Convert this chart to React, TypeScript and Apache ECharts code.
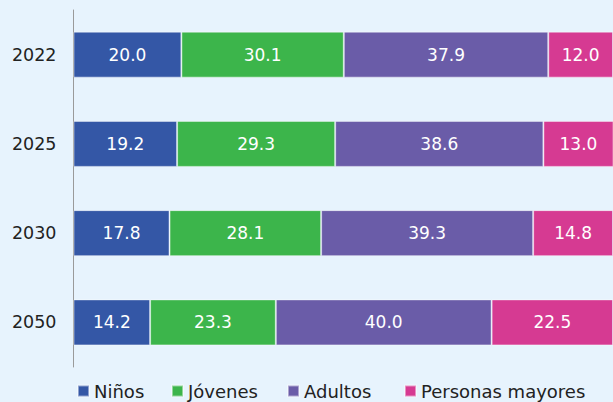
import React, { useEffect, useRef } from "react";
import * as echarts from "echarts";

const categories = ["2022", "2025", "2030", "2050"];
const seriesNames = ["Niños", "Jóvenes", "Adultos", "Personas mayores"];
const ninos = [20.0, 19.2, 17.8, 14.2];
const jovenes = [30.1, 29.3, 28.1, 23.3];
const adultos = [37.9, 38.6, 39.3, 40.0];
const mayores = [12.0, 13.0, 14.8, 22.5];
const colors = ["#3457a6", "#3cb54b", "#6a5ca8", "#d63a92"];
const legendLefts = [77, 171, 287, 404];

const FONT = "'DejaVu Sans', 'Noto Sans', sans-serif";

export default function App() {
  const ref = useRef<HTMLDivElement>(null);
  useEffect(() => {
    if (!ref.current) return;
    const chart = echarts.init(ref.current, undefined, { renderer: "svg" });
    const values = [ninos, jovenes, adultos, mayores];
    chart.setOption({
      animation: false,
      backgroundColor: "#e7f3fd",
      color: colors,
      grid: { left: 73.5, top: 10, width: 542.5, height: 357 },
      legend: seriesNames.map((name, i) => ({
        data: [name],
        left: legendLefts[i],
        top: 382,
        padding: 0,
        itemWidth: 11,
        itemHeight: 11,
        icon: "rect",
        textStyle: { fontFamily: FONT, fontSize: 18, color: "#222" },
      })),
      xAxis: {
        type: "value",
        min: 0,
        max: 100,
        show: false,
      },
      yAxis: {
        type: "category",
        data: categories,
        inverse: true,
        axisLine: { show: true, lineStyle: { color: "#9a9a9a", width: 1 } },
        axisTick: { show: false },
        axisLabel: { fontFamily: FONT, fontSize: 17.5, color: "#222", margin: 17 },
      },
      series: seriesNames.map((name, i) => ({
        name,
        type: "bar",
        stack: "total",
        barWidth: 46,
        data: values[i],
        itemStyle: { borderColor: "rgba(255,255,255,0.45)", borderWidth: 1 },
        label: {
          show: true,
          position: "inside",
          color: "#ffffff",
          fontFamily: FONT,
          fontSize: 17,
          formatter: (p: any) => Number(p.value).toFixed(1),
        },
      })),
    });
    return () => chart.dispose();
  }, []);
  return <div ref={ref} style={{ width: 613, height: 402, position: "absolute", left: 0, top: 0 }} />;
}
